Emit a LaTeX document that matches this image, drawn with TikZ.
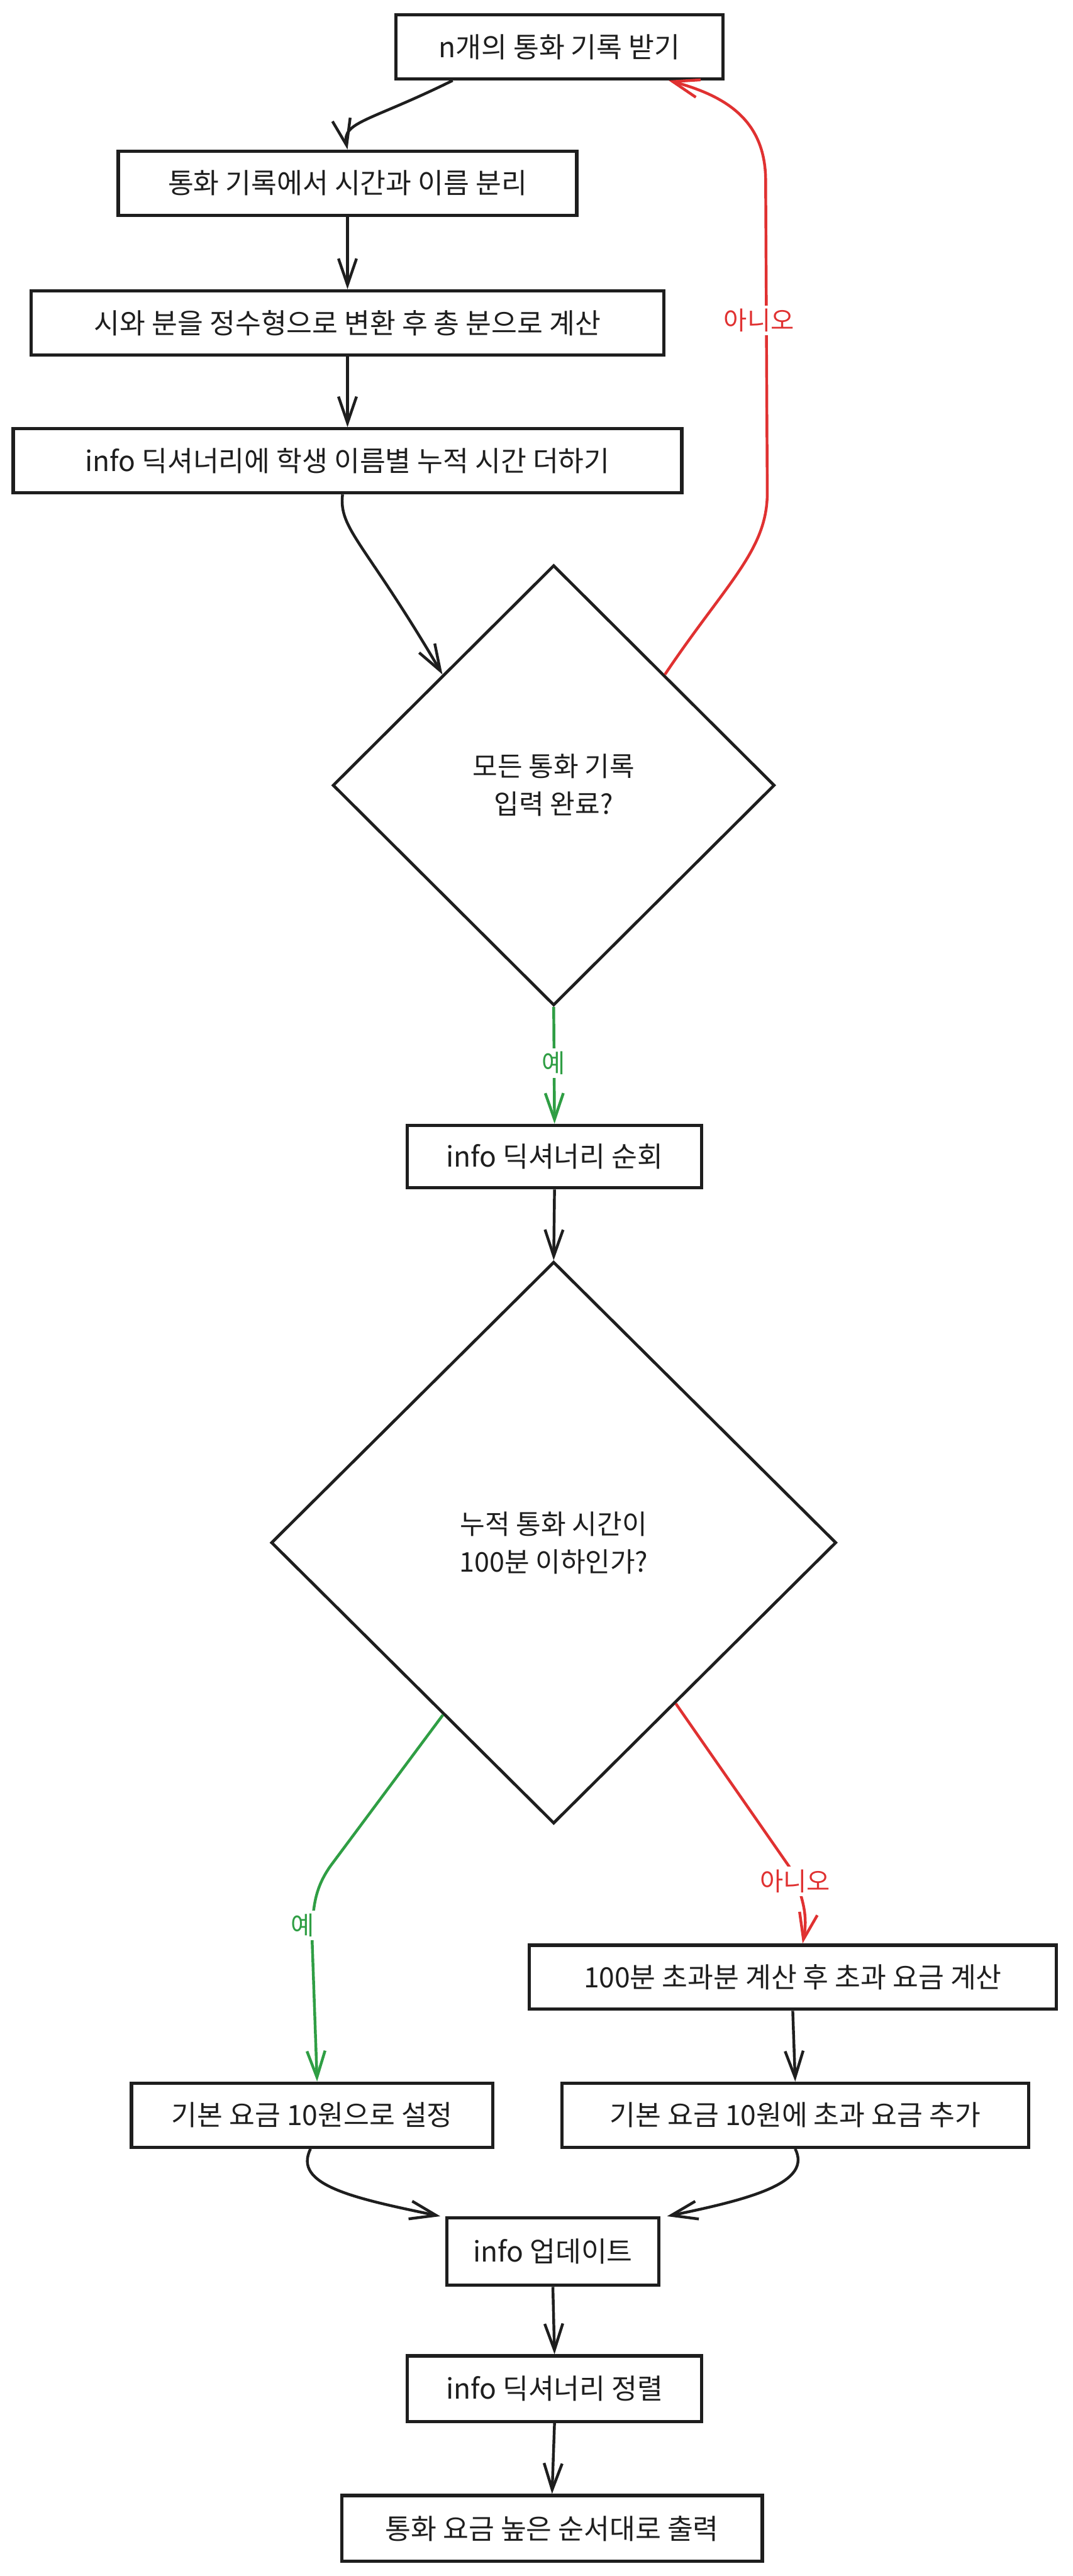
\documentclass[tikz,border=0pt]{standalone}
\usepackage{fontspec}
\setmainfont{Noto Sans CJK KR}
\usetikzlibrary{arrows.meta,shapes.geometric,calc}
\definecolor{ink}{HTML}{1E1E1E}
\definecolor{xred}{HTML}{E03131}
\definecolor{xgreen}{HTML}{2F9E44}
\begin{document}
\begin{tikzpicture}[x=1pt,y=-1pt,
  box/.style={draw=ink,line width=2pt,rectangle,minimum height=39pt,inner sep=0pt,font=\fontsize{17}{23}\selectfont,text=ink},
  dec/.style={draw=ink,line width=1.8pt,diamond,inner sep=0pt,align=center,font=\fontsize{16.5}{23}\selectfont,text=ink},
  arr/.style={draw=ink,line width=1.7pt,-{Straight Barb[length=16pt,width=11pt]}},
  redarr/.style={arr,draw=xred},
  greenarr/.style={arr,draw=xgreen},
  lbl/.style={fill=white,inner sep=2pt,font=\fontsize{15.5}{18}\selectfont},
]
\useasboundingbox (0,0) rectangle (653,1568);
\fill[white] (0,0) rectangle (653,1568);

\node[box,minimum width=199pt] (b1) at (340.5,28.5) {n개의 통화 기록 받기};
\node[box,minimum width=279pt] (b2) at (211.5,111.5) {통화 기록에서 시간과 이름 분리};
\node[box,minimum width=385pt] (b3) at (211.5,196.5) {시와 분을 정수형으로 변환 후 총 분으로 계산};
\node[box,minimum width=407pt] (b4) at (211.5,280.5) {info 딕셔너리에 학생 이름별 누적 시간 더하기};
\node[dec,minimum width=269pt,minimum height=268pt] (d1) at (337,478) {모든 통화 기록\\ 입력 완료?};
\node[box,minimum width=179pt,minimum height=38pt] (b5) at (337.5,704) {info 딕셔너리 순회};
\node[dec,minimum width=344pt,minimum height=342pt] (d2) at (337,939) {누적 통화 시간이\\ 100분 이하인가?};
\node[box,minimum width=321pt] (b7) at (482.5,1203.5) {100분 초과분 계산 후 초과 요금 계산};
\node[box,minimum width=220pt] (b6) at (190,1287.5) {기본 요금 10원으로 설정};
\node[box,minimum width=284pt] (b8) at (484,1287.5) {기본 요금 10원에 초과 요금 추가};
\node[box,minimum width=129pt,minimum height=41pt] (b9) at (336.5,1370.5) {info 업데이트};
\node[box,minimum width=179pt,minimum height=40pt] (b10) at (337.5,1454) {info 딕셔너리 정렬};
\node[box,minimum width=256pt,minimum height=40pt] (b11) at (336,1539) {통화 요금 높은 순서대로 출력};

\coordinate (g2s) at ($(d2.west)!0.61!(d2.south)$);
\coordinate (r2s) at ($(d2.east)!0.57!(d2.south)$);

% main flow
\draw[arr] ([xshift=-65pt]b1.south) .. controls (225,74) and (208,74) .. (b2.north);
\draw[arr] (b2.south) -- (b3.north);
\draw[arr] (b3.south) -- (b4.north);
\draw[arr] ([xshift=-3pt]b4.south) .. controls (206,322) and (222,330) .. (d1.north west);

% loop back (no)
\draw[redarr] (d1.north east) .. controls (442,355) and (467,335) .. (467,300)
  -- (466,110) .. controls (466,72) and (440,58) .. ([xshift=-34pt]b1.south east);
\node[lbl,text=xred] (no1) at (462,195) {아니오};

% yes
\draw[greenarr] (d1.south) -- (b5.north);
\node[lbl,text=xgreen] (yes1) at (337,647) {예};

\draw[arr] (b5.south) -- (d2.north);

% second decision
\draw[greenarr] (g2s) -- (201,1136) .. controls (192,1149) and (190,1160) .. (190,1182) -- ([xshift=3pt]b6.north);
\node[lbl,text=xgreen] (yes2) at (184,1172) {예};
\draw[redarr] (r2s) -- (483,1140) .. controls (488,1155) and (492,1165) .. ([xshift=6pt]b7.north);
\node[lbl,text=xred] (no2) at (484,1145) {아니오};

\draw[arr] (b7.south) -- (b8.north);
\draw[arr] ([xshift=-1pt]b6.south) .. controls (178,1330) and (215,1338) .. ([xshift=-3pt]b9.north west);
\draw[arr] (b8.south) .. controls (494,1328) and (460,1338) .. ([xshift=4pt]b9.north east);
\draw[arr] (b9.south) -- (b10.north);
\draw[arr] (b10.south) -- (b11.north);
\end{tikzpicture}
\end{document}
